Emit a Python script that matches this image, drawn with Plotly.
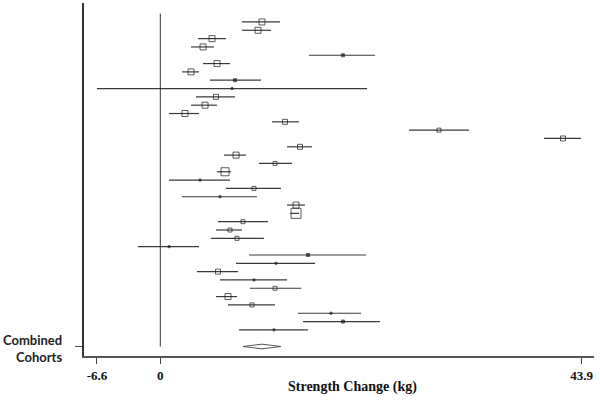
import plotly.graph_objects as go

# Study rows (1 = top), effect estimate and 95% CI (kg)
rows = list(range(1, 39))
est = [10.59, 10.18, 5.39, 4.45, 19.03, 5.91, 3.20, 7.78, 7.47, 5.80,
       4.66, 2.57, 12.99, 29.03, 41.95, 14.55, 7.89, 11.95, 6.74, 4.14,
       9.76, 6.22, 14.14, 14.14, 8.61, 7.26, 7.99, 0.91, 15.38, 12.05,
       6.01, 9.76, 11.95, 7.05, 9.55, 17.78, 19.03, 11.84]
lo = [8.51, 8.51, 3.93, 3.20, 15.49, 4.45, 2.26, 5.18, -6.59, 3.72,
      3.20, 0.91, 11.64, 25.91, 39.97, 13.20, 6.64, 10.28, 5.91, 0.91,
      6.84, 2.26, 13.20, 13.51, 6.01, 5.80, 5.28, -2.32, 9.24, 7.89,
      3.82, 6.22, 9.34, 5.80, 7.05, 14.34, 14.86, 8.20]
hi = [12.47, 11.53, 6.84, 5.59, 22.36, 7.26, 4.03, 10.49, 21.53, 7.78,
      5.91, 4.03, 14.45, 32.16, 43.82, 15.80, 8.93, 13.72, 7.36, 7.26,
      12.57, 10.07, 15.07, 14.45, 11.22, 8.51, 10.80, 4.03, 21.43, 16.12,
      8.10, 13.20, 14.68, 7.99, 11.95, 20.91, 22.88, 15.38]
# relative study weight (marker size)
weight = [6, 6, 6, 6, 3, 6, 6, 3, 2, 5,
          6, 6, 5, 4, 5, 5, 6, 4, 8, 2,
          4, 2, 6, 10, 4, 4, 4, 2, 3, 2,
          5, 2, 4, 6, 4, 2, 3, 2]

combined_row = 40
combined_est = 10.59
combined_lo = 8.61
combined_hi = 12.57
combined_label = "Combined<br>Cohorts"

tick_vals = [-6.6, 0, 43.9]
tick_text = ["-6.6", "0", "43.9"]
x_title = "Strength Change (kg)"

fig = go.Figure()

# CI lines
cx, cy = [], []
for r, a, b in zip(rows, lo, hi):
    cx += [a, b, None]
    cy += [r, r, None]
fig.add_trace(go.Scatter(x=cx, y=cy, mode="lines",
                         line=dict(color="#3a3a3a", width=1.2),
                         hoverinfo="skip", showlegend=False))

# point estimates
small = [w <= 3 for w in weight]
fig.add_trace(go.Scatter(
    x=est, y=rows, mode="markers",
    marker=dict(symbol=["square" if s else "square-open" for s in small],
                size=weight, color="#1a1a1a",
                line=dict(color="#1a1a1a", width=1)),
    showlegend=False))

# combined diamond
h = 0.28
fig.add_trace(go.Scatter(
    x=[combined_lo, combined_est, combined_hi, combined_est, combined_lo],
    y=[combined_row, combined_row - h, combined_row, combined_row + h, combined_row],
    mode="lines", line=dict(color="#555", width=1),
    fill="toself", fillcolor="white", showlegend=False))

# zero reference line
fig.add_shape(type="line", x0=0, x1=0, y0=0, y1=combined_row,
              xref="x", yref="y", line=dict(color="#333", width=1))

fig.add_annotation(text="<b>" + combined_label + "</b>", xref="paper", yref="y",
                   x=0, y=combined_row, xanchor="right", yanchor="middle",
                   xshift=-20, yshift=-2, showarrow=False, align="right",
                   font=dict(family="Lato", size=13, color="#222"))

fig.add_annotation(text="<b>" + x_title + "</b>", xref="paper", yref="paper",
                   x=0.5, y=0, xanchor="center", yanchor="top",
                   xshift=13, yshift=-21, showarrow=False,
                   font=dict(family="Liberation Serif", size=14, color="#111"))

fig.update_layout(
    width=600, height=400,
    margin=dict(l=84, r=6, t=3, b=44, autoexpand=False),
    plot_bgcolor="white", paper_bgcolor="white",
    xaxis=dict(range=[-7.95, 45.18], tickvals=tick_vals, ticktext=tick_text,
               ticks="outside", ticklen=6, tickcolor="#444",
               showline=True, linecolor="#555", linewidth=2,
               showgrid=False, zeroline=False, ticklabelstandoff=0,
               automargin=False,
               tickfont=dict(family="Liberation Serif", size=13, color="#111", weight="bold")),
    yaxis=dict(range=[41.14, -1.28], tickvals=[combined_row], ticktext=[""],
               ticks="outside", ticklen=7, tickcolor="#555",
               showline=True, linecolor="#333", linewidth=1.5,
               showgrid=False, zeroline=False, automargin=False),
)

fig.write_html("out.html", config={"displayModeBar": False},
               post_script="document.body.style.margin='0';document.body.style.overflow='hidden';")
